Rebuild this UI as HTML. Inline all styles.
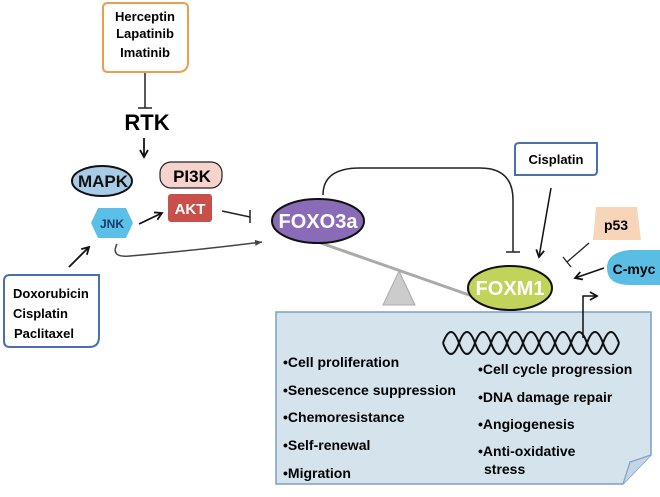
<!DOCTYPE html>
<html><head><meta charset="utf-8"><style>
body{margin:0;background:#fff}
svg text{font-family:"Liberation Sans",Arial,sans-serif;font-weight:bold}
</style></head><body>
<svg width="660" height="492" viewBox="0 0 660 492" xmlns="http://www.w3.org/2000/svg">
<defs>
<marker id="ar" markerWidth="10" markerHeight="10" refX="8" refY="5" orient="auto" markerUnits="userSpaceOnUse"><path d="M1,1 L8,5 L1,9" fill="none" stroke="#111" stroke-width="1.8"/></marker>
<marker id="ar2" markerWidth="8" markerHeight="8" refX="7" refY="4" orient="auto" markerUnits="userSpaceOnUse"><path d="M0,1 L7,4 L0,7z" fill="#444"/></marker>
</defs>
<path d="M108,3 H183 Q188,3 188,8 V62 Q188,72 178,72 H108 Q103,72 103,67 V8 Q103,3 108,3z" fill="#fff" stroke="#e8a050" stroke-width="2"/>
<text x="145" y="21" font-size="13" text-anchor="middle">Herceptin</text>
<text x="145" y="38" font-size="13" text-anchor="middle">Lapatinib</text>
<text x="145" y="57" font-size="13" text-anchor="middle">Imatinib</text>
<line x1="145" y1="73" x2="145" y2="108" stroke="#222" stroke-width="1.5"/>
<line x1="138" y1="108" x2="152" y2="108" stroke="#222" stroke-width="1.5"/>
<text x="147" y="130" font-size="22" text-anchor="middle">RTK</text>
<line x1="144" y1="138" x2="144" y2="157" stroke="#111" stroke-width="1.8" marker-end="url(#ar)"/>
<ellipse cx="102" cy="181" rx="30" ry="15" fill="#a9cce6" stroke="#111" stroke-width="2"/>
<text x="103" y="187" font-size="17" text-anchor="middle" fill="#111">MAPK</text>
<rect x="160" y="162" width="62" height="26" rx="11" fill="#f6d3cc" stroke="#222" stroke-width="1.2"/>
<text x="192" y="182" font-size="17" text-anchor="middle">PI3K</text>
<rect x="168" y="194" width="44" height="28" rx="3" fill="#c9504a"/>
<text x="190" y="214" font-size="15" text-anchor="middle" fill="#fff">AKT</text>
<polygon points="98,208 126,208 133,223 126,238 98,238 91,223" fill="#5bc0e8"/>
<text x="112" y="228" font-size="12" text-anchor="middle" fill="#1a3a6a">JNK</text>
<line x1="139" y1="224" x2="162" y2="213" stroke="#111" stroke-width="1.8" marker-end="url(#ar)"/>
<line x1="222" y1="211" x2="250" y2="217" stroke="#222" stroke-width="1.5"/>
<line x1="250" y1="210" x2="250" y2="223" stroke="#222" stroke-width="1.5"/>
<path d="M117,244 Q110,258 130,256 Q200,250 262,242" fill="none" stroke="#444" stroke-width="1.5" marker-end="url(#ar2)"/>
<line x1="69" y1="267" x2="89" y2="247" stroke="#111" stroke-width="1.8" marker-end="url(#ar)"/>
<path d="M10,275 H99 V337 Q99,347 89,347 H10 Q4,347 4,341 V281 Q4,275 10,275z" fill="#fff" stroke="#4a6eb0" stroke-width="2"/>
<text x="13" y="298" font-size="13">Doxorubicin</text>
<text x="13" y="318" font-size="13">Cisplatin</text>
<text x="14" y="338" font-size="13">Paclitaxel</text>
<line x1="318" y1="242" x2="472" y2="296" stroke="#aaa" stroke-width="3"/>
<polygon points="399,271 415,305 383,305" fill="#ccc" stroke="#aaa"/>
<path d="M323,195 Q323,168 360,168 L480,168 Q513,168 513,200 V252" fill="none" stroke="#222" stroke-width="1.5"/>
<line x1="506" y1="252" x2="520" y2="252" stroke="#222" stroke-width="1.5"/>
<ellipse cx="318" cy="221" rx="46" ry="22" fill="#8a6bb8" stroke="#111" stroke-width="2"/>
<text x="318" y="228" font-size="20" text-anchor="middle" fill="#fff">FOXO3a</text>
<path d="M519,143 H597 V171 Q597,175 593,175 H515 V147 Q515,143 519,143z" fill="#fff" stroke="#4a6eb0" stroke-width="2"/>
<text x="556" y="164" font-size="13" text-anchor="middle">Cisplatin</text>
<line x1="551" y1="188" x2="539" y2="257" stroke="#111" stroke-width="1.5" marker-end="url(#ar)"/>
<polygon points="596,207 637,207 641,240 593,240" fill="#f7d5b8"/>
<text x="616" y="230" font-size="14" text-anchor="middle">p53</text>
<line x1="589" y1="243" x2="567" y2="262" stroke="#222" stroke-width="1.3"/>
<line x1="563" y1="257" x2="571" y2="267" stroke="#222" stroke-width="1.3"/>
<path d="M660,250 H630 Q607,252 607,268 Q607,285 630,285 H660z" fill="#59bde4"/>
<text x="634" y="274" font-size="14" text-anchor="middle">C-myc</text>
<line x1="604" y1="268" x2="575" y2="278" stroke="#111" stroke-width="1.5" marker-end="url(#ar)"/>
<path d="M276,312 H651 V455 L623,484 H276z" fill="#d5e3ec" stroke="#7da0c4" stroke-width="1.5"/>
<path d="M623,484 L630,462 L651,455" fill="#c4d6e4" stroke="#7da0c4" stroke-width="1.2"/>
<ellipse cx="510" cy="288" rx="42" ry="22" fill="#c2d35a" stroke="#111" stroke-width="2"/>
<text x="510" y="295" font-size="20" text-anchor="middle" fill="#fff">FOXM1</text>
<path d="M443,343 Q451,321 459,343 T475,343 T491,343 T507,343 T523,343 T539,343 T555,343 T571,343 T587,343 T603,343 T619,343" fill="none" stroke="#111" stroke-width="2"/>
<path d="M443,343 Q451,365 459,343 T475,343 T491,343 T507,343 T523,343 T539,343 T555,343 T571,343 T587,343 T603,343 T619,343" fill="none" stroke="#111" stroke-width="2"/>
<path d="M583,338 V296 H597" fill="none" stroke="#111" stroke-width="1.5" marker-end="url(#ar)"/>
<g font-size="14">
<text x="283" y="367">•Cell proliferation</text>
<text x="283" y="395">•Senescence suppression</text>
<text x="283" y="422">•Chemoresistance</text>
<text x="283" y="450">•Self-renewal</text>
<text x="283" y="478">•Migration</text>
<text x="478" y="374">•Cell cycle progression</text>
<text x="478" y="402">•DNA damage repair</text>
<text x="478" y="429">•Angiogenesis</text>
<text x="478" y="456">•Anti-oxidative</text>
<text x="484" y="474">stress</text>
</g>
</svg>
</body></html>
